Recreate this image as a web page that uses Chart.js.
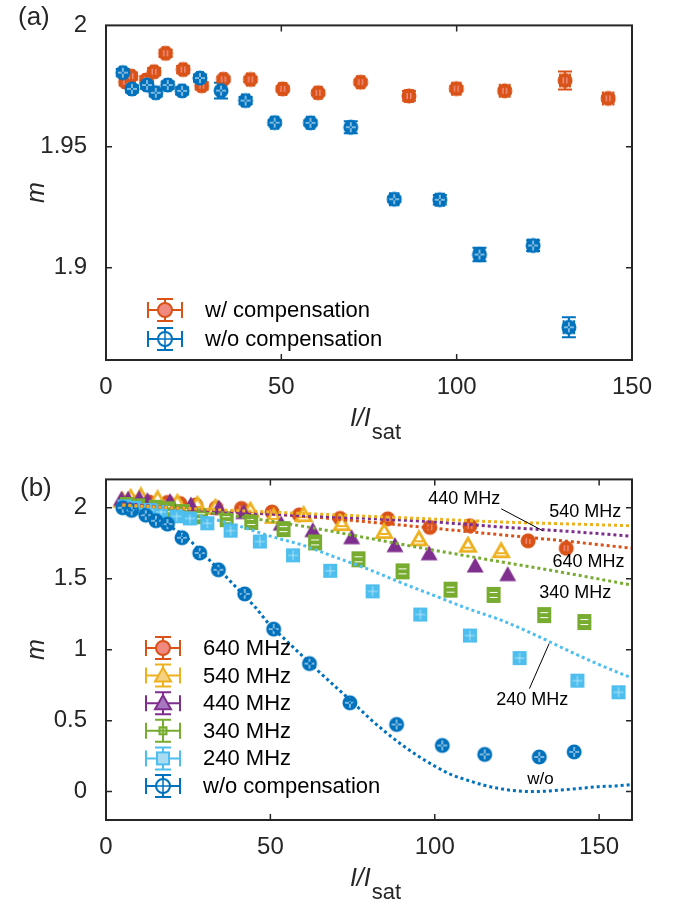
<!DOCTYPE html>
<html>
<head>
<meta charset="utf-8">
<script src="https://cdn.jsdelivr.net/npm/chart.js@4"></script>
<style>
  body { margin: 0; background: #fff; }
  #wrap { position: relative; width: 674px; height: 908px; }
  canvas { position: absolute; left: 0; }
</style>
</head>
<body>
<div id="wrap">
  <canvas id="chartA" width="674" height="454" style="top:0"></canvas>
  <canvas id="chartB" width="674" height="454" style="top:454px"></canvas>
</div>
<script>
// ---- panel (a) data ----
const aOrangeI = [5.6, 7.1, 11.5, 13.7, 17.0, 22.0, 27.3, 33.5, 41.2, 50.4, 60.5, 72.6, 86.4, 99.9, 113.7, 130.9, 143.2];
const aOrangeM = [1.9767, 1.9791, 1.9775, 1.9809, 1.9885, 1.9818, 1.9751, 1.9778, 1.9777, 1.9738, 1.9722, 1.9766, 1.9709, 1.9739, 1.9730, 1.9773, 1.9699];
const aOrangeErr = [0.0015, 0.0015, 0.0015, 0.0015, 0.0015, 0.0015, 0.0015, 0.0010, 0.0010, 0.0010, 0.0010, 0.0010, 0.0020, 0.0010, 0.0010, 0.0037, 0.0010];
const aBlueI = [4.8, 7.4, 11.7, 14.2, 17.6, 21.7, 26.8, 32.8, 39.8, 48.1, 58.3, 69.8, 82.2, 95.2, 106.5, 121.8, 132.0];
const aBlueM = [1.9805, 1.9738, 1.9754, 1.9722, 1.9754, 1.9730, 1.9783, 1.9731, 1.9690, 1.9599, 1.9598, 1.9580, 1.9283, 1.9281, 1.9055, 1.9092, 1.8755];
const aBlueErr = [0.0015, 0.0015, 0.0015, 0.0015, 0.0015, 0.0015, 0.0015, 0.0032, 0.0015, 0.0010, 0.0010, 0.0025, 0.0010, 0.0020, 0.0028, 0.0022, 0.0041];
const aXErr = [0.8, 0.8, 0.8, 0.8, 0.8, 0.8, 0.8, 0.8, 1.0, 1.0, 1.0, 1.0, 1.2, 1.2, 1.4, 1.4, 1.5];
const aXTicks = [0, 50, 100, 150];
const aYTicks = [1.9, 1.95, 2];

// ---- panel (b) data ----
const bWoI = [5.1, 7.8, 12.1, 15.2, 18.7, 23.1, 28.5, 34.2, 42.2, 51.0, 61.9, 74.2, 88.4, 102.3, 115.2, 131.8, 142.4];
const bWoM = [2.0, 1.982, 1.948, 1.909, 1.885, 1.789, 1.681, 1.563, 1.393, 1.145, 0.902, 0.626, 0.473, 0.325, 0.262, 0.244, 0.280];
const b240I = [5.6, 8.6, 13.3, 16.7, 21.5, 25.5, 30.8, 37.9, 46.8, 56.9, 68.2, 81.1, 95.6, 110.7, 125.8, 143.4, 155.9];
const b240M = [2.01, 2.0, 1.985, 1.97, 1.94, 1.925, 1.891, 1.839, 1.762, 1.665, 1.556, 1.411, 1.248, 1.10, 0.941, 0.782, 0.70];
const b340I = [6.4, 9.8, 15.1, 19.0, 23.4, 28.9, 36.7, 44.2, 54.0, 63.6, 76.8, 90.2, 104.8, 117.9, 133.3, 145.5];
const b340M = [2.02, 2.01, 2.0, 1.99, 1.97, 1.94, 1.92, 1.90, 1.85, 1.756, 1.637, 1.552, 1.423, 1.386, 1.244, 1.195];
const b440I = [4.7, 6.7, 10.1, 12.6, 19.5, 25.8, 34.3, 41.9, 53.3, 62.9, 74.7, 87.9, 98.3, 112.3, 122.2];
const b440M = [2.06, 2.06, 2.065, 2.05, 2.043, 2.02, 1.997, 1.966, 1.885, 1.839, 1.789, 1.733, 1.676, 1.59, 1.529];
const b540I = [5.0, 7.5, 10.6, 15.7, 21.7, 27.8, 33.3, 43.9, 51.0, 60.1, 71.7, 84.6, 95.2, 110.1, 120.2];
const b540M = [2.05, 2.07, 2.08, 2.06, 2.034, 2.02, 2.0, 1.98, 1.936, 1.948, 1.885, 1.83, 1.778, 1.733, 1.694];
const b640I = [5.5, 8.0, 13.1, 18.7, 22.5, 27.3, 33.5, 41.2, 50.5, 58.8, 71.2, 85.7, 98.5, 110.7, 128.4, 140.0];
const b640M = [2.03, 2.04, 2.04, 2.038, 2.03, 2.02, 2.0, 1.995, 1.97, 1.95, 1.925, 1.922, 1.862, 1.873, 1.767, 1.715];

// dotted model curves
const fitX = [5, 20, 40, 60, 80, 100, 120, 140, 160];
const fit640 = [2.02, 2.0, 1.97, 1.94, 1.9, 1.855, 1.81, 1.765, 1.715];
const fit540 = [2.02, 2.0, 1.98, 1.96, 1.94, 1.92, 1.9, 1.887, 1.873];
const fit440 = [2.03, 2.0, 1.97, 1.945, 1.925, 1.9, 1.865, 1.835, 1.80];
const fit340 = [2.02, 2.0, 1.94, 1.87, 1.785, 1.70, 1.62, 1.54, 1.455];
const fit240X = [5, 10, 20, 30, 40, 50, 60, 70, 80, 90, 100, 110, 120, 130, 140, 150, 160];
const fit240 = [2.02, 2.01, 1.985, 1.935, 1.875, 1.80, 1.735, 1.65, 1.565, 1.47, 1.38, 1.29, 1.21, 1.11, 1.0, 0.895, 0.80];
const fitWoX = [5, 10, 15, 20, 25, 30, 35, 40, 45, 50, 55, 60, 65, 70, 75, 80, 85, 90, 95, 100, 105, 110, 115, 120, 125, 130, 135, 140, 145, 150, 155, 160];
const fitWo = [2.0, 1.968, 1.92, 1.86, 1.78, 1.665, 1.55, 1.43, 1.31, 1.17, 1.06, 0.95, 0.84, 0.735, 0.63, 0.52, 0.42, 0.33, 0.25, 0.18, 0.12, 0.08, 0.045, 0.02, 0.005, 0.0, 0.005, 0.015, 0.025, 0.035, 0.04, 0.05];
const bXTicks = [0, 50, 100, 150];
const bYTicks = [0, 0.5, 1, 1.5, 2];

const BLUE = "#0072BD", ORANGE = "#D95319", YELLOW = "#EDB120",
      PURPLE = "#7E2F8E", GREEN = "#77AC30", CYAN = "#4DBEEE", INK = "#262626";
const FONT = "'Liberation Sans', Arial, sans-serif";

const pts = (xs, ys) => xs.map((x, i) => ({ x: x, y: ys[i] }));

function triPath(g, s) {
  g.beginPath();
  g.moveTo(0, -s);
  g.lineTo(s, s * 0.75);
  g.lineTo(-s, s * 0.75);
  g.closePath();
}

function makeMarker(kind) {
  const c = document.createElement("canvas");
  c.width = 20; c.height = 20;
  const g = c.getContext("2d");
  g.translate(10, 10);
  if (kind === "orange") {
    g.fillStyle = ORANGE;
    g.beginPath(); g.arc(0, 0, 7.5, 0, Math.PI * 2); g.fill();
    g.fillStyle = "#F08C7C";
    g.fillRect(-2.5, -3, 1.5, 6); g.fillRect(1, -3, 1.5, 6);
  } else if (kind === "blue") {
    g.fillStyle = BLUE;
    g.beginPath(); g.arc(0, 0, 7.5, 0, Math.PI * 2); g.fill();
    g.fillStyle = "#ffffff";
    g.fillRect(-0.5, -5, 1, 4); g.fillRect(-0.5, 1, 1, 4);
    g.fillRect(-5, -0.5, 4, 1); g.fillRect(1, -0.5, 4, 1);
  } else if (kind === "purple") {
    g.fillStyle = PURPLE;
    triPath(g, 8.5); g.fill();
  } else if (kind === "yellow") {
    g.strokeStyle = YELLOW; g.lineWidth = 2.8; g.fillStyle = "#ffffff";
    triPath(g, 7.5); g.fill(); g.stroke();
    g.beginPath(); g.moveTo(-4, 2); g.lineTo(4, 2); g.lineWidth = 2; g.stroke();
  } else if (kind === "green") {
    g.fillStyle = GREEN;
    g.fillRect(-7, -8, 14, 16);
    g.fillStyle = "#ffffff";
    g.fillRect(-4, -3, 8, 1); g.fillRect(-4, 2, 8, 1);
  } else if (kind === "cyan") {
    g.fillStyle = CYAN;
    g.fillRect(-7, -7, 14, 14);
    g.fillStyle = "rgba(255,255,255,0.55)";
    g.fillRect(-0.5, -5, 1, 10); g.fillRect(-5, -0.5, 10, 1);
  }
  return c;
}

const markers = {};
["orange", "blue", "purple", "yellow", "green", "cyan"].forEach(k => markers[k] = makeMarker(k));

// error bars (panel a)
const errorBars = {
  id: "errorBars",
  beforeDatasetsDraw(chart) {
    const { ctx, scales: { x, y } } = chart;
    chart.data.datasets.forEach(ds => {
      if (!ds.yErr) return;
      ctx.save();
      ctx.strokeStyle = ds.errColor;
      ctx.lineWidth = 2;
      ds.data.forEach((p, j) => {
        const px = x.getPixelForValue(p.x), py = y.getPixelForValue(p.y);
        const y0 = y.getPixelForValue(p.y - ds.yErr[j]), y1 = y.getPixelForValue(p.y + ds.yErr[j]);
        const x0 = x.getPixelForValue(p.x - ds.xErr[j]), x1 = x.getPixelForValue(p.x + ds.xErr[j]);
        ctx.beginPath();
        ctx.moveTo(px, y0); ctx.lineTo(px, y1);
        ctx.moveTo(px - 7, y0); ctx.lineTo(px + 7, y0);
        ctx.moveTo(px - 7, y1); ctx.lineTo(px + 7, y1);
        ctx.moveTo(x0, py); ctx.lineTo(x1, py);
        ctx.moveTo(x0, py - 7); ctx.lineTo(x0, py + 7);
        ctx.moveTo(x1, py - 7); ctx.lineTo(x1, py + 7);
        ctx.stroke();
      });
      ctx.restore();
    });
  }
};

// box with inward ticks on all four sides
const frame = {
  id: "frame",
  afterDraw(chart) {
    const { ctx, chartArea: a, scales: { x, y } } = chart;
    ctx.save();
    ctx.strokeStyle = INK;
    ctx.lineWidth = 2;
    ctx.strokeRect(a.left, a.top, a.right - a.left, a.bottom - a.top);
    ctx.lineWidth = 1.5;
    ctx.beginPath();
    x.ticks.forEach(t => {
      const px = x.getPixelForValue(t.value);
      if (px <= a.left + 1 || px >= a.right - 1) return;
      ctx.moveTo(px, a.bottom); ctx.lineTo(px, a.bottom - 6);
      ctx.moveTo(px, a.top); ctx.lineTo(px, a.top + 6);
    });
    y.ticks.forEach(t => {
      const py = y.getPixelForValue(t.value);
      if (py <= a.top + 1 || py >= a.bottom - 1) return;
      ctx.moveTo(a.left, py); ctx.lineTo(a.left + 6, py);
      ctx.moveTo(a.right, py); ctx.lineTo(a.right - 6, py);
    });
    ctx.stroke();
    ctx.restore();
  }
};

// panel letter, axis titles
const titles = {
  id: "titles",
  afterDraw(chart, args, opts) {
    const { ctx, chartArea: a } = chart;
    ctx.save();
    ctx.fillStyle = INK;
    ctx.textBaseline = "middle";
    ctx.textAlign = "left";
    ctx.font = "26px " + FONT;
    ctx.fillText(opts.letter, opts.letterX, opts.letterY);
    // y title
    ctx.save();
    ctx.translate(37, (a.top + a.bottom) / 2);
    ctx.rotate(-Math.PI / 2);
    ctx.textAlign = "center";
    ctx.font = "italic 25px " + FONT;
    ctx.fillText("m", 0, 0);
    ctx.restore();
    // x title  I/I_sat
    const cx = (a.left + a.right) / 2 + 6;
    const ty = a.bottom + 59;
    ctx.font = "italic 25px " + FONT;
    const w1 = ctx.measureText("I/I").width;
    ctx.font = "22px " + FONT;
    const w2 = ctx.measureText("sat").width;
    const x0 = cx - (w1 + w2) / 2;
    ctx.font = "italic 25px " + FONT;
    ctx.fillText("I/I", x0, ty);
    ctx.font = "22px " + FONT;
    ctx.fillText("sat", x0 + w1 + 1, ty + 14);
    ctx.restore();
  }
};

function drawLegendMarker(ctx, kind, x, y) {
  ctx.lineWidth = 2;
  if (kind === "circPink") {
    ctx.fillStyle = "#F08A80"; ctx.strokeStyle = ORANGE;
    ctx.beginPath(); ctx.arc(x, y, 7, 0, Math.PI * 2); ctx.fill(); ctx.stroke();
  } else if (kind === "circOpen") {
    ctx.fillStyle = "#ffffff"; ctx.strokeStyle = BLUE;
    ctx.beginPath(); ctx.arc(x, y, 7, 0, Math.PI * 2); ctx.fill(); ctx.stroke();
  } else if (kind === "triYellow" || kind === "triPurple") {
    ctx.fillStyle = kind === "triYellow" ? "#F5D283" : "#A678C0";
    ctx.strokeStyle = kind === "triYellow" ? YELLOW : PURPLE;
    ctx.save(); ctx.translate(x, y); triPath(ctx, 8); ctx.restore();
    ctx.fill(); ctx.stroke();
  } else if (kind === "sqGreen") {
    ctx.fillStyle = "#BCD88F"; ctx.strokeStyle = GREEN;
    ctx.fillRect(x - 3.5, y - 3.5, 7, 7); ctx.strokeRect(x - 3.5, y - 3.5, 7, 7);
  } else if (kind === "sqCyan") {
    ctx.fillStyle = "#A9DCF2"; ctx.strokeStyle = CYAN;
    ctx.fillRect(x - 6, y - 6, 12, 12); ctx.strokeRect(x - 6, y - 6, 12, 12);
  }
}

// legend with error-bar glyphs
const errLegend = {
  id: "errLegend",
  afterDraw(chart, args, opts) {
    const { ctx } = chart;
    ctx.save();
    ctx.textBaseline = "middle";
    ctx.textAlign = "left";
    opts.items.forEach((it, i) => {
      const x = opts.x, y = opts.y + i * opts.step;
      ctx.strokeStyle = it.color;
      ctx.lineWidth = 2;
      ctx.beginPath();
      ctx.moveTo(x - 17, y); ctx.lineTo(x + 17, y);
      ctx.moveTo(x - 17, y - 8); ctx.lineTo(x - 17, y + 8);
      ctx.moveTo(x + 17, y - 8); ctx.lineTo(x + 17, y + 8);
      ctx.moveTo(x, y - 11); ctx.lineTo(x, y + 11);
      ctx.moveTo(x - 8, y - 11); ctx.lineTo(x + 8, y - 11);
      ctx.moveTo(x - 8, y + 11); ctx.lineTo(x + 8, y + 11);
      ctx.stroke();
      drawLegendMarker(ctx, it.marker, x, y);
      if (it.marker === "circOpen" || it.marker === "sqGreen") {
        ctx.strokeStyle = it.color; ctx.lineWidth = 1.5;
        ctx.beginPath();
        ctx.moveTo(x - 7, y); ctx.lineTo(x + 7, y);
        ctx.moveTo(x, y - 7); ctx.lineTo(x, y + 7);
        ctx.stroke();
      }
      ctx.fillStyle = "#000";
      ctx.font = "22px " + FONT;
      ctx.fillText(it.text, x + 40, y + 1);
    });
    ctx.restore();
  }
};

// curve labels (panel b)
const curveLabels = {
  id: "curveLabels",
  afterDatasetsDraw(chart, args, opts) {
    const { ctx, scales: { x, y } } = chart;
    ctx.save();
    ctx.strokeStyle = "#000";
    ctx.lineWidth = 1;
    opts.leaders.forEach(l => {
      ctx.beginPath();
      ctx.moveTo(x.getPixelForValue(l[0]), y.getPixelForValue(l[1]));
      ctx.lineTo(x.getPixelForValue(l[2]), y.getPixelForValue(l[3]));
      ctx.stroke();
    });
    ctx.fillStyle = "#000";
    ctx.textBaseline = "middle";
    ctx.textAlign = "left";
    opts.labels.forEach(l => {
      ctx.font = l.size + "px " + FONT;
      ctx.fillText(l.text, x.getPixelForValue(l.x), y.getPixelForValue(l.y));
    });
    ctx.restore();
  }
};

function axisOptions(min, max, tickList, isX, fixed) {
  return {
    type: "linear",
    min: min,
    max: max,
    afterBuildTicks: s => { s.ticks = tickList.map(v => ({ value: v })); },
    afterFit: s => { if (isX) s.height = fixed; else s.width = fixed; },
    grid: { display: false },
    border: { display: false },
    ticks: {
      color: INK,
      font: { family: FONT, size: 24 },
      padding: isX ? 5 : 11,
      maxRotation: 0,
      autoSkip: false,
      callback: v => String(+v.toFixed(3))
    }
  };
}

const commonOpts = {
  responsive: false,
  animation: false,
  devicePixelRatio: 1,
  events: []
};

// ---- chart (a) ----
new Chart(document.getElementById("chartA"), {
  type: "scatter",
  data: {
    datasets: [
      { label: "w/o compensation", data: pts(aBlueI, aBlueM), yErr: aBlueErr, xErr: aXErr,
        errColor: BLUE, pointStyle: markers.blue, pointRadius: 8, order: 1 },
      { label: "w/ compensation", data: pts(aOrangeI, aOrangeM), yErr: aOrangeErr, xErr: aXErr,
        errColor: ORANGE, pointStyle: markers.orange, pointRadius: 8, order: 2 }
    ]
  },
  options: Object.assign({}, commonOpts, {
    layout: { padding: { top: 18, right: 42, left: 0, bottom: 0 } },
    plugins: {
      legend: { display: false },
      tooltip: { enabled: false },
      titles: { letter: "(a)", letterX: 18, letterY: 18 },
      errLegend: {
        x: 165, y: 310, step: 29,
        items: [
          { text: "w/ compensation", color: ORANGE, marker: "circPink" },
          { text: "w/o compensation", color: BLUE, marker: "circOpen" }
        ]
      }
    },
    scales: {
      x: axisOptions(0, 150, aXTicks, true, 94),
      y: axisOptions(1.862, 2, aYTicks, false, 106)
    }
  }),
  plugins: [errorBars, frame, titles, errLegend]
});

// ---- chart (b) ----
const dotted = (xs, ys, color) => ({
  data: pts(xs, ys), showLine: true, borderColor: color, borderWidth: 3,
  borderDash: [3, 3], pointRadius: 0, cubicInterpolationMode: "monotone", order: 0
});

new Chart(document.getElementById("chartB"), {
  type: "scatter",
  data: {
    datasets: [
      dotted(fitX, fit540, YELLOW),
      dotted(fitX, fit440, PURPLE),
      dotted(fitX, fit640, ORANGE),
      dotted(fitX, fit340, GREEN),
      dotted(fit240X, fit240, CYAN),
      dotted(fitWoX, fitWo, BLUE),
      { label: "w/o compensation", data: pts(bWoI, bWoM), pointStyle: markers.blue, pointRadius: 8, order: 1 },
      { label: "240 MHz", data: pts(b240I, b240M), pointStyle: markers.cyan, pointRadius: 8, order: 2 },
      { label: "340 MHz", data: pts(b340I, b340M), pointStyle: markers.green, pointRadius: 8, order: 3 },
      { label: "440 MHz", data: pts(b440I, b440M), pointStyle: markers.purple, pointRadius: 8, order: 4 },
      { label: "540 MHz", data: pts(b540I, b540M), pointStyle: markers.yellow, pointRadius: 8, order: 5 },
      { label: "640 MHz", data: pts(b640I, b640M), pointStyle: markers.orange, pointRadius: 8, order: 6 }
    ]
  },
  options: Object.assign({}, commonOpts, {
    layout: { padding: { top: 14, right: 42, left: 0, bottom: 0 } },
    plugins: {
      legend: { display: false },
      tooltip: { enabled: false },
      titles: { letter: "(b)", letterX: 20, letterY: 35 },
      errLegend: {
        x: 163, y: 194, step: 27.6,
        items: [
          { text: "640 MHz", color: ORANGE, marker: "circPink" },
          { text: "540 MHz", color: YELLOW, marker: "triYellow" },
          { text: "440 MHz", color: PURPLE, marker: "triPurple" },
          { text: "340 MHz", color: GREEN, marker: "sqGreen" },
          { text: "240 MHz", color: CYAN, marker: "sqCyan" },
          { text: "w/o compensation", color: BLUE, marker: "circOpen" }
        ]
      },
      curveLabels: {
        leaders: [[120.2, 1.993, 132.8, 1.839], [128.8, 0.726, 134.8, 1.043]],
        labels: [
          { text: "440 MHz", x: 98.0, y: 2.065, size: 18 },
          { text: "540 MHz", x: 134.8, y: 1.97, size: 18 },
          { text: "640 MHz", x: 135.8, y: 1.62, size: 18 },
          { text: "340 MHz", x: 131.8, y: 1.40, size: 18 },
          { text: "240 MHz", x: 118.7, y: 0.642, size: 18 },
          { text: "w/o", x: 128.1, y: 0.085, size: 17 }
        ]
      }
    },
    scales: {
      x: axisOptions(0, 160, bXTicks, true, 88),
      y: axisOptions(-0.2, 2.2, bYTicks, false, 106)
    }
  }),
  plugins: [frame, titles, errLegend, curveLabels]
});
</script>
</body>
</html>
